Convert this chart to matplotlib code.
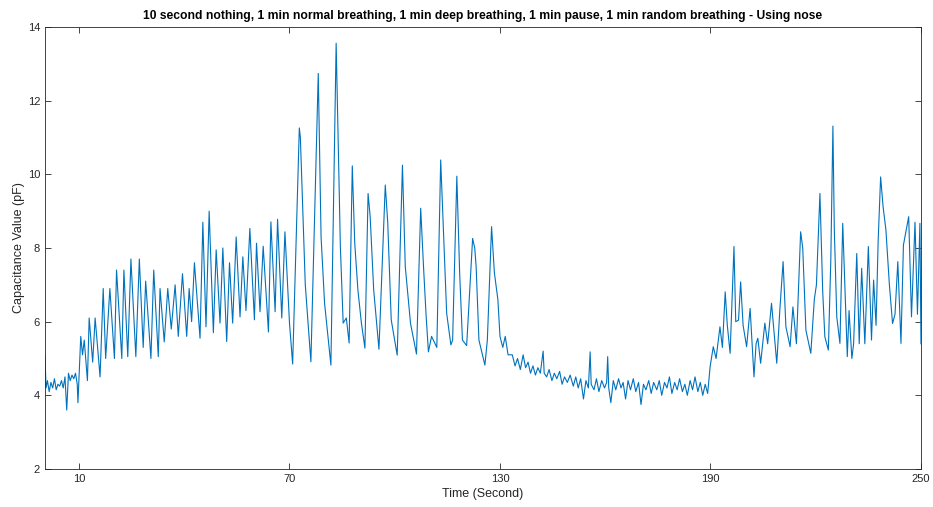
import matplotlib
matplotlib.use("Agg")
import matplotlib.pyplot as plt

plt.rcParams['font.family'] = ['Liberation Sans', 'DejaVu Sans']

# values (time in s, capacitance in pF)
t_rest = [0.3, 0.6, 1.0, 1.5, 2.0, 2.5, 3.0, 3.5, 4.0, 4.5, 5.0, 5.5, 6.0, 6.5, 7.0,
          7.5, 8.0, 8.5, 9.0, 9.5, 9.7, 10.0]
v_rest = [5.1, 4.2, 4.4, 4.1, 4.35, 4.2, 4.45, 4.15, 4.3, 4.25, 4.4, 4.2, 4.5, 3.6, 4.6,
          4.4, 4.55, 4.45, 4.6, 4.3, 3.8, 4.5]

t_normal = [10.5, 11.0, 11.5, 12.4, 12.9, 13.9, 14.6, 16.0, 16.9, 17.6, 18.8, 20.1, 20.7,
            22.2, 22.8, 23.9, 24.8, 26.2, 27.2, 28.3, 29.0, 30.5, 31.3, 32.6, 33.1, 34.3,
            35.3, 36.3, 37.4, 38.3, 39.5, 40.7, 41.4, 42.1, 42.9, 44.5, 45.3, 46.2, 47.1,
            48.3, 49.1, 50.2, 51.0, 52.1, 52.9, 53.8, 54.8, 55.9, 56.7, 57.6, 58.7, 60.0,
            60.6, 61.6, 62.5, 64.0, 64.7, 65.9, 66.6, 67.8, 68.7, 70.0]
v_normal = [5.6, 5.1, 5.5, 4.4, 6.1, 4.9, 6.1, 4.5, 6.9, 5.0, 6.9, 5.0, 7.4,
            5.0, 7.4, 5.05, 7.7, 5.05, 7.7, 5.3, 7.1, 5.0, 7.4, 5.05, 6.9, 5.45,
            6.9, 5.8, 7.0, 5.6, 7.3, 5.6, 6.9, 6.0, 7.6, 5.55, 8.7, 5.86, 9.0,
            5.7, 7.95, 5.96, 8.0, 5.46, 7.6, 5.96, 8.3, 6.13, 7.76, 6.3, 8.53, 6.05,
            8.13, 6.27, 8.05, 5.72, 8.71, 6.27, 8.78, 6.1, 8.44, 5.96]

t_deep = [70.9, 72.8, 73.1, 74.5, 76.1, 78.2, 79.0, 80.0, 81.8, 83.3, 84.0, 84.5, 85.3,
          86.2, 87.0, 87.9, 88.6, 89.5, 90.5, 91.5, 92.4, 93.0, 94.0, 95.5, 97.3, 98.0,
          99.0, 100.7, 102.2, 103.0, 104.5, 106.2, 107.4, 108.2, 108.9, 109.6, 110.5,
          111.5, 112.0, 113.1, 114.0, 114.8, 116.0, 116.5, 117.7, 118.5, 119.3, 120.5,
          122.2, 122.8, 123.2, 124.0, 125.7, 126.4, 127.6, 128.4, 129.4, 130.0]
v_deep = [4.85, 11.26, 11.0, 7.0, 4.91, 12.74, 8.3, 6.5, 4.82, 13.56, 10.3, 8.04, 5.96,
          6.1, 5.42, 10.23, 8.13, 6.86, 5.96, 5.28, 9.48, 8.85, 6.86, 5.25, 9.71, 8.7,
          6.05, 5.09, 10.25, 7.5, 5.95, 5.12, 9.08, 7.5, 6.23, 5.18, 5.6,
          5.4, 5.3, 10.39, 8.2, 6.23, 5.37, 5.5, 9.95, 7.33, 5.5, 5.35,
          8.26, 8.0, 7.5, 5.5, 4.82, 5.5, 8.58, 7.33, 6.6, 5.6]

t_pause = [130.8, 131.5, 132.3, 133.5, 134.3, 135.0, 135.8, 136.6, 137.3, 138.0, 138.7,
           139.4, 140.1, 140.8, 141.5, 142.3, 142.6, 143.3, 144.0, 144.8, 145.5, 146.2,
           147.0, 147.7, 148.4, 149.2, 150.0, 150.9, 151.6, 152.3, 153.0, 153.8, 154.5,
           155.2, 155.7, 156.0, 156.8, 157.5, 158.2, 159.0, 159.8, 160.4, 160.7, 161.0,
           161.6, 162.3, 163.0, 163.8, 164.5, 165.1, 165.8, 166.5, 167.2, 168.0, 168.7,
           169.5, 170.2, 170.9, 171.6, 172.4, 173.1, 173.8, 174.7, 175.4, 176.1, 176.9,
           177.6, 178.3, 179.0, 179.8, 180.5, 181.2, 182.0, 182.7, 183.4, 184.2, 184.9,
           185.6, 186.4, 187.1, 187.8, 188.5, 189.2, 189.9]
v_pause = [5.3, 5.6, 5.1, 5.1, 4.8, 5.0, 4.7, 5.1, 4.75, 4.9, 4.6,
           4.8, 4.55, 4.75, 4.6, 5.2, 4.6, 4.5, 4.7, 4.4, 4.6, 4.45,
           4.65, 4.3, 4.5, 4.35, 4.55, 4.25, 4.5, 4.2, 4.45, 3.9, 4.4,
           4.2, 5.18, 4.3, 4.15, 4.45, 4.1, 4.4, 4.2, 4.35, 5.05, 4.2,
           3.8, 4.4, 4.15, 4.45, 4.2, 4.35, 3.9, 4.4, 4.15, 4.45, 4.1,
           4.35, 3.75, 4.3, 4.15, 4.4, 4.05, 4.35, 4.15, 4.4, 4.0, 4.35,
           4.2, 4.5, 4.05, 4.35, 4.15, 4.45, 4.1, 4.3, 4.0, 4.4, 4.15,
           4.5, 4.1, 4.35, 4.0, 4.3, 4.05, 4.78]

t_random = [190.8, 191.6, 192.7, 193.4, 194.2, 194.8, 195.6, 196.7, 197.2, 198.0, 198.6,
            199.3, 200.3, 201.3, 202.4, 203.0, 203.5, 204.3, 205.5, 206.3, 207.4, 208.9,
            209.8, 210.7, 211.5, 212.7, 213.5, 214.5, 215.7, 216.3, 217.2, 218.6, 219.6,
            220.2, 221.2, 222.0, 222.6, 223.6, 224.3, 224.9, 225.3, 226.0, 226.9, 227.7,
            228.2, 229.0, 229.5, 230.3, 230.8, 231.7, 232.4, 233.1, 234.0, 235.0, 235.9,
            236.5, 237.2, 237.8, 238.5, 239.2, 240.0, 241.0, 241.9, 242.6, 243.4, 244.3,
            245.0, 246.5, 247.3, 248.3, 249.0, 249.7, 250.0]
v_random = [5.32, 5.0, 5.86, 5.3, 6.81, 5.9, 5.14, 8.04, 6.0, 6.04, 7.08,
            5.9, 5.32, 6.36, 4.5, 5.4, 5.55, 4.87, 5.96, 5.4, 6.5, 4.87,
            6.36, 7.63, 5.86, 5.32, 6.4, 5.4, 8.44, 8.0, 5.77, 5.14, 6.6,
            7.0, 9.48, 6.8, 5.59, 5.23, 7.67, 11.31, 8.5, 6.13, 5.41, 8.67,
            7.3, 5.05, 6.3, 5.0, 5.4, 7.85, 5.4, 7.45, 5.4, 8.04, 5.5,
            7.13, 5.9, 8.2, 9.93, 9.12, 8.5, 7.0, 5.95, 6.2, 7.63, 5.41,
            8.08, 8.85, 6.13, 8.7, 6.2, 8.67, 5.4]

time = t_rest + t_normal + t_deep + t_pause + t_random
cap = v_rest + v_normal + v_deep + v_pause + v_random

fig = plt.figure(figsize=(9.33, 5.07), dpi=100)
ax = fig.add_axes([0.0482, 0.075, 0.9389, 0.8717])
ax.plot(time, cap, color='#0072BD', linewidth=0.8)

ax.set_xlim(0.3, 250)
ax.set_ylim(2, 14)
ax.set_xticks([10, 70, 130, 190, 250])
ax.set_yticks([2, 4, 6, 8, 10, 12, 14])
ax.tick_params(direction='in', top=True, right=True, labelsize=8, length=4,
               color='#262626', labelcolor='#262626', width=0.6)
for s in ax.spines.values():
    s.set_color('#262626')
    s.set_linewidth(0.6)

ax.set_xlabel('Time (Second)', fontsize=9, color='#262626', labelpad=3)
ax.set_ylabel('Capacitance Value (pF)', fontsize=9, color='#262626', labelpad=2)
ax.set_title('10 second nothing, 1 min normal breathing, 1 min deep breathing, 1 min pause, '
             '1 min random breathing - Using nose', fontsize=8.7, fontweight='bold', pad=6)

fig.savefig('out.png', dpi=100)
